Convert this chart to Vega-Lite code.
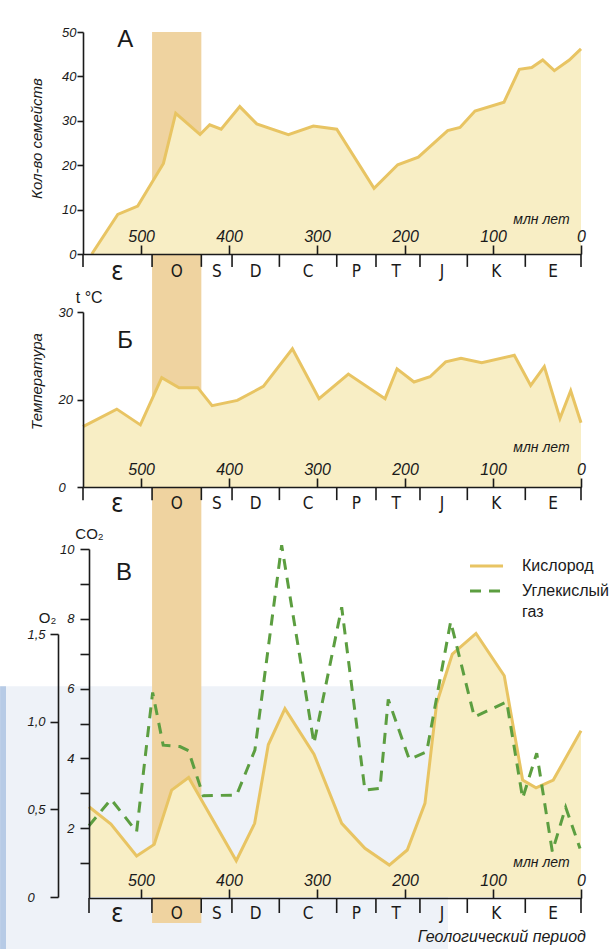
{
  "$schema": "https://vega.github.io/schema/vega-lite/v6.json",
  "width": 614,
  "height": 949,
  "autosize": {"type": "none"},
  "padding": 0,
  "config": {
    "view": {"stroke": null},
    "font": "Liberation Sans",
    "axis": {
      "grid": false,
      "domainColor": "#1a1a1a",
      "tickColor": "#1a1a1a",
      "labelColor": "#1a1a1a",
      "titleColor": "#1a1a1a",
      "domainWidth": 1.6,
      "tickWidth": 1.6,
      "labelFont": "Liberation Sans",
      "titleFont": "Liberation Sans",
      "labelFontStyle": "italic",
      "titleFontWeight": "normal",
      "labelOverlap": false,
      "labelBound": false
    }
  },
  "datasets": {
    "fam": [
      {"age": 556, "v": 0}, {"age": 526.5, "v": 8.9}, {"age": 503.8, "v": 10.8}, {"age": 474.6, "v": 20.4},
      {"age": 460.6, "v": 31.7}, {"age": 433, "v": 26.9}, {"age": 422, "v": 29.1}, {"age": 409, "v": 28.1},
      {"age": 387.8, "v": 33.2}, {"age": 368.5, "v": 29.3}, {"age": 332.6, "v": 26.9}, {"age": 304.2, "v": 28.8},
      {"age": 277.6, "v": 28.1}, {"age": 235.2, "v": 14.8}, {"age": 208.3, "v": 20.1}, {"age": 184.9, "v": 21.8},
      {"age": 151.5, "v": 27.8}, {"age": 137.5, "v": 28.5}, {"age": 120.5, "v": 32.2}, {"age": 87.5, "v": 34.2},
      {"age": 70.1, "v": 41.6}, {"age": 56, "v": 42.0}, {"age": 43.5, "v": 43.7}, {"age": 30.3, "v": 41.3},
      {"age": 13.3, "v": 43.7}, {"age": 0, "v": 46.2}
    ],
    "temp": [
      {"age": 566, "v": 16.9}, {"age": 527.6, "v": 18.9}, {"age": 500.8, "v": 17.1}, {"age": 476.5, "v": 22.5},
      {"age": 456.8, "v": 21.35}, {"age": 435.6, "v": 21.35}, {"age": 419.3, "v": 19.3}, {"age": 390.6, "v": 19.9},
      {"age": 361, "v": 21.5}, {"age": 328, "v": 25.8}, {"age": 297.7, "v": 20.1}, {"age": 264.4, "v": 22.9},
      {"age": 222.7, "v": 20.1}, {"age": 209.1, "v": 23.5}, {"age": 189.8, "v": 22.0}, {"age": 171.6, "v": 22.6},
      {"age": 153.8, "v": 24.3}, {"age": 136.4, "v": 24.7}, {"age": 112.8, "v": 24.2}, {"age": 75.8, "v": 25.05},
      {"age": 57.2, "v": 21.6}, {"age": 41.7, "v": 23.75}, {"age": 23.9, "v": 17.85}, {"age": 11.7, "v": 21.0},
      {"age": 0, "v": 17.35}
    ],
    "o2": [
      {"age": 559, "v": 0.515}, {"age": 534.1, "v": 0.416}, {"age": 504.9, "v": 0.234}, {"age": 484.9, "v": 0.30},
      {"age": 465.1, "v": 0.61}, {"age": 445.8, "v": 0.682}, {"age": 391.7, "v": 0.207}, {"age": 370.8, "v": 0.42},
      {"age": 355.3, "v": 0.868}, {"age": 336.4, "v": 1.074}, {"age": 303.4, "v": 0.815}, {"age": 271.9, "v": 0.42},
      {"age": 245.5, "v": 0.278}, {"age": 217.8, "v": 0.182}, {"age": 197.4, "v": 0.268}, {"age": 177.3, "v": 0.534},
      {"age": 164, "v": 1.104}, {"age": 146.2, "v": 1.385}, {"age": 119.3, "v": 1.503}, {"age": 87.2, "v": 1.262},
      {"age": 66.3, "v": 0.667}, {"age": 51.1, "v": 0.623}, {"age": 31.5, "v": 0.667}, {"age": 0, "v": 0.948}
    ],
    "co2": [
      {"age": 559, "v": 2.07}, {"age": 534, "v": 2.83}, {"age": 504.9, "v": 1.90}, {"age": 486.7, "v": 5.89},
      {"age": 474.7, "v": 4.38}, {"age": 455.7, "v": 4.34}, {"age": 446, "v": 4.22}, {"age": 429.2, "v": 2.93},
      {"age": 391.3, "v": 2.95}, {"age": 370.5, "v": 4.24}, {"age": 340.1, "v": 10.11}, {"age": 303.4, "v": 4.43},
      {"age": 271.9, "v": 8.33}, {"age": 245.5, "v": 3.09}, {"age": 228.4, "v": 3.14}, {"age": 219, "v": 5.69},
      {"age": 195.1, "v": 3.97}, {"age": 175.3, "v": 4.19}, {"age": 148.1, "v": 7.92}, {"age": 121.2, "v": 5.19},
      {"age": 84.4, "v": 5.62}, {"age": 66.3, "v": 2.86}, {"age": 50.3, "v": 4.15}, {"age": 32.6, "v": 1.33},
      {"age": 17.4, "v": 2.6}, {"age": 1.1, "v": 1.42}
    ],
    "periods": [
      {"name": "ε", "start": 566, "end": 487.5, "mid": 527},
      {"name": "O", "start": 487.5, "end": 431.5, "mid": 459.5},
      {"name": "S", "start": 431.5, "end": 396.6, "mid": 414},
      {"name": "D", "start": 396.6, "end": 342.8, "mid": 369.7},
      {"name": "C", "start": 342.8, "end": 277.6, "mid": 310.2},
      {"name": "P", "start": 277.6, "end": 233, "mid": 255.3},
      {"name": "T", "start": 233, "end": 183, "mid": 210},
      {"name": "J", "start": 183, "end": 129.2, "mid": 158},
      {"name": "K", "start": 129.2, "end": 63.3, "mid": 96.2},
      {"name": "E", "start": 63.3, "end": 0, "mid": 31.6}
    ],
    "one": [{}]
  },
  "layer": [
    {
      "data": {"name": "one"},
      "mark": {"type": "rect", "color": "#eef2f8"},
      "encoding": {
        "x": {"datum": 660, "type": "quantitative", "scale": {"domain": [0, 559], "range": [581, 89], "nice": false, "zero": false}, "axis": null},
        "x2": {"datum": 151.1},
        "y": {"datum": 6.07, "type": "quantitative", "scale": {"domain": [0, 10], "range": [898, 549], "nice": false, "zero": false}, "axis": null},
        "y2": {"datum": -1.5}
      }
    },
    {
      "data": {"name": "one"},
      "mark": {"type": "rect", "color": "#b7cbe6"},
      "encoding": {
        "x": {"datum": 660, "type": "quantitative", "scale": {"domain": [0, 559], "range": [581, 89], "nice": false, "zero": false}, "axis": null},
        "x2": {"datum": 653.3},
        "y": {"datum": 6.07, "type": "quantitative", "scale": {"domain": [0, 10], "range": [898, 549], "nice": false, "zero": false}, "axis": null},
        "y2": {"datum": -1.5}
      }
    },
    {
      "data": {"name": "periods"},
      "transform": [{"filter": "datum.name === 'O'"}],
      "mark": {"type": "rect", "color": "#efd3a0"},
      "encoding": {
        "x": {"field": "start", "type": "quantitative", "scale": {"domain": [0, 566], "range": [581, 83], "nice": false, "zero": false}, "axis": null},
        "x2": {"field": "end"},
        "y": {"datum": 1, "type": "quantitative", "scale": {"domain": [0, 1], "range": [923, 32], "nice": false, "zero": false}, "axis": null},
        "y2": {"datum": 0}
      }
    },
    {
      "data": {"name": "fam"},
      "encoding": {
        "x": {"field": "age", "type": "quantitative", "scale": {"domain": [0, 566], "range": [581, 83], "nice": false, "zero": false},
          "axis": {"orient": "top", "offset": -254, "zindex": 1, "values": [500, 400, 300, 200, 100, 0], "format": "d", "tickSize": 9, "labelPadding": 1, "labelFontSize": 16, "labelFlush": false,
            "title": "млн лет", "titleX": 541, "titleY": -35, "titleAlign": "center", "titleBaseline": "middle", "titleFontSize": 14, "titleFontStyle": "italic", "titleAngle": 0}},
        "y": {"field": "v", "type": "quantitative", "scale": {"domain": [0, 50], "range": [254, 32], "nice": false, "zero": false},
          "axis": {"orient": "left", "offset": -83, "zindex": 1, "values": [0, 10, 20, 30, 40, 50], "tickSize": 6, "labelPadding": 1, "labelFontSize": 13,
            "title": "Кол-во семейств", "titleFontSize": 15, "titleFontStyle": "italic", "titleAngle": 270, "titleX": -47, "titleY": 138, "titleAlign": "center", "titleBaseline": "middle"}}
      },
      "layer": [
        {"mark": {"type": "area", "color": "#f8eec5"}, "encoding": {"y2": {"datum": 0}}},
        {"mark": {"type": "line", "color": "#e8c463", "strokeWidth": 3}}
      ]
    },
    {
      "data": {"name": "periods"},
      "mark": {"type": "rule", "color": "#1a1a1a", "strokeWidth": 1.6},
      "encoding": {
        "x": {"field": "end", "type": "quantitative", "scale": {"domain": [0, 566], "range": [581, 83], "nice": false, "zero": false}, "axis": null},
        "y": {"datum": 0, "type": "quantitative", "scale": {"domain": [0, 50], "range": [254, 32], "nice": false, "zero": false}, "axis": null},
        "y2": {"datum": -2.9}
      }
    },
    {
      "data": {"name": "one"},
      "mark": {"type": "rule", "color": "#1a1a1a", "strokeWidth": 1.6},
      "encoding": {
        "x": {"datum": 566, "type": "quantitative", "scale": {"domain": [0, 566], "range": [581, 83], "nice": false, "zero": false}, "axis": null},
        "y": {"datum": 0, "type": "quantitative", "scale": {"domain": [0, 50], "range": [254, 32], "nice": false, "zero": false}, "axis": null},
        "y2": {"datum": -2.9}
      }
    },
    {
      "data": {"name": "periods"},
      "mark": {"type": "text", "font": "Liberation Sans Narrow, DejaVu Sans Condensed, Liberation Sans", "baseline": "middle", "dy": 18, "color": "#1a1a1a"},
      "encoding": {
        "x": {"field": "mid", "type": "quantitative", "scale": {"domain": [0, 566], "range": [581, 83], "nice": false, "zero": false}, "axis": null},
        "y": {"datum": 0, "type": "quantitative", "scale": {"domain": [0, 50], "range": [254, 32], "nice": false, "zero": false}, "axis": null},
        "text": {"field": "name"},
        "size": {"condition": {"test": "datum.name === 'ε'", "value": 26}, "value": 17}
      }
    },
    {
      "data": {"name": "one"},
      "mark": {"type": "text", "text": "А", "fontSize": 24, "color": "#1a1a1a", "baseline": "middle"},
      "encoding": {
        "x": {"datum": 518, "type": "quantitative", "scale": {"domain": [0, 566], "range": [581, 83], "nice": false, "zero": false}, "axis": null},
        "y": {"datum": 48.2, "type": "quantitative", "scale": {"domain": [0, 50], "range": [254, 32], "nice": false, "zero": false}, "axis": null}
      }
    },
    {
      "data": {"name": "temp"},
      "encoding": {
        "x": {"field": "age", "type": "quantitative", "scale": {"domain": [0, 566], "range": [581, 83], "nice": false, "zero": false},
          "axis": {"orient": "top", "offset": -487, "zindex": 1, "values": [500, 400, 300, 200, 100, 0], "format": "d", "tickSize": 9, "labelPadding": 1, "labelFontSize": 16, "labelFlush": false,
            "title": "млн лет", "titleX": 541, "titleY": -40, "titleAlign": "center", "titleBaseline": "middle", "titleFontSize": 14, "titleFontStyle": "italic", "titleAngle": 0}},
        "y": {"field": "v", "type": "quantitative", "scale": {"domain": [10, 30], "range": [487, 312], "nice": false, "zero": false},
          "axis": {"orient": "left", "offset": -83, "zindex": 1, "values": [10, 20, 30], "labelExpr": "datum.value == 10 ? '0' : datum.label", "tickSize": 6, "labelPadding": 19, "labelAlign": "left", "labelFontSize": 13,
            "title": "Температура", "titleFontSize": 15, "titleFontStyle": "italic", "titleAngle": 270, "titleX": -47, "titleY": 381, "titleAlign": "center", "titleBaseline": "middle"}}
      },
      "layer": [
        {"mark": {"type": "area", "color": "#f8eec5"}, "encoding": {"y2": {"datum": 10}}},
        {"mark": {"type": "line", "color": "#e8c463", "strokeWidth": 3}}
      ]
    },
    {
      "data": {"name": "periods"},
      "mark": {"type": "rule", "color": "#1a1a1a", "strokeWidth": 1.6},
      "encoding": {
        "x": {"field": "end", "type": "quantitative", "scale": {"domain": [0, 566], "range": [581, 83], "nice": false, "zero": false}, "axis": null},
        "y": {"datum": 10, "type": "quantitative", "scale": {"domain": [10, 30], "range": [487, 312], "nice": false, "zero": false}, "axis": null},
        "y2": {"datum": 8.5}
      }
    },
    {
      "data": {"name": "one"},
      "mark": {"type": "rule", "color": "#1a1a1a", "strokeWidth": 1.6},
      "encoding": {
        "x": {"datum": 566, "type": "quantitative", "scale": {"domain": [0, 566], "range": [581, 83], "nice": false, "zero": false}, "axis": null},
        "y": {"datum": 10, "type": "quantitative", "scale": {"domain": [10, 30], "range": [487, 312], "nice": false, "zero": false}, "axis": null},
        "y2": {"datum": 8.5}
      }
    },
    {
      "data": {"name": "periods"},
      "mark": {"type": "text", "font": "Liberation Sans Narrow, DejaVu Sans Condensed, Liberation Sans", "baseline": "middle", "dy": 17, "color": "#1a1a1a"},
      "encoding": {
        "x": {"field": "mid", "type": "quantitative", "scale": {"domain": [0, 566], "range": [581, 83], "nice": false, "zero": false}, "axis": null},
        "y": {"datum": 10, "type": "quantitative", "scale": {"domain": [10, 30], "range": [487, 312], "nice": false, "zero": false}, "axis": null},
        "text": {"field": "name"},
        "size": {"condition": {"test": "datum.name === 'ε'", "value": 26}, "value": 17}
      }
    },
    {
      "data": {"name": "one"},
      "mark": {"type": "text", "text": "Б", "fontSize": 24, "color": "#1a1a1a", "baseline": "middle"},
      "encoding": {
        "x": {"datum": 518, "type": "quantitative", "scale": {"domain": [0, 566], "range": [581, 83], "nice": false, "zero": false}, "axis": null},
        "y": {"datum": 26.7, "type": "quantitative", "scale": {"domain": [10, 30], "range": [487, 312], "nice": false, "zero": false}, "axis": null}
      }
    },
    {
      "data": {"name": "one"},
      "mark": {"type": "text", "text": "t °C", "fontSize": 16, "color": "#1a1a1a", "baseline": "middle"},
      "encoding": {
        "x": {"datum": 559, "type": "quantitative", "scale": {"domain": [0, 566], "range": [581, 83], "nice": false, "zero": false}, "axis": null},
        "y": {"datum": 31.6, "type": "quantitative", "scale": {"domain": [10, 30], "range": [487, 312], "nice": false, "zero": false}, "axis": null}
      }
    },
    {
      "data": {"name": "o2"},
      "encoding": {
        "x": {"field": "age", "type": "quantitative", "scale": {"domain": [0, 559], "range": [581, 89], "nice": false, "zero": false}, "axis": null},
        "y": {"field": "v", "type": "quantitative", "scale": {"domain": [0, 1.5], "range": [897, 634], "nice": false, "zero": false},
          "axis": {"orient": "left", "offset": -58, "zindex": 1, "values": [0, 0.5, 1, 1.5], "labelExpr": "datum.value == 0 ? '0' : replace(format(datum.value, '.1f'), '.', ',')", "tickSize": 8, "labelPadding": 23, "labelAlign": "left", "labelFontSize": 13,
            "title": "O₂", "titleAngle": 0, "titleX": -11, "titleY": 617, "titleAlign": "center", "titleBaseline": "middle", "titleFontSize": 15, "titleFontStyle": "normal"}}
      },
      "layer": [
        {"mark": {"type": "area", "color": "#f8eec5"}, "encoding": {"y2": {"datum": 0}}},
        {"mark": {"type": "line", "color": "#e8c463", "strokeWidth": 3}}
      ]
    },
    {
      "data": {"name": "co2"},
      "mark": {"type": "line", "color": "#5c9e40", "strokeWidth": 3, "strokeDash": [11, 8]},
      "encoding": {
        "x": {"field": "age", "type": "quantitative", "scale": {"domain": [0, 559], "range": [581, 89], "nice": false, "zero": false},
          "axis": {"orient": "top", "offset": -898, "zindex": 1, "values": [500, 400, 300, 200, 100, 0], "format": "d", "tickSize": 9, "labelPadding": 1, "labelFontSize": 16, "labelFlush": false,
            "title": "млн лет", "titleX": 541, "titleY": -36, "titleAlign": "center", "titleBaseline": "middle", "titleFontSize": 14, "titleFontStyle": "italic", "titleAngle": 0}},
        "y": {"field": "v", "type": "quantitative", "scale": {"domain": [0, 10], "range": [898, 549], "nice": false, "zero": false},
          "axis": {"orient": "left", "offset": -89, "zindex": 1, "values": [1, 2, 3, 4, 5, 6, 7, 8, 9, 10], "labelExpr": "datum.value % 2 == 0 ? datum.label : ''", "tickSize": 9, "labelPadding": 6, "labelFontSize": 13,
            "title": "CO₂", "titleAngle": 0, "titleX": 0, "titleY": 533, "titleAlign": "center", "titleBaseline": "middle", "titleFontSize": 15, "titleFontStyle": "normal"}}
      }
    },
    {
      "data": {"name": "periods"},
      "mark": {"type": "rule", "color": "#1a1a1a", "strokeWidth": 1.6},
      "encoding": {
        "x": {"field": "end", "type": "quantitative", "scale": {"domain": [0, 559], "range": [581, 89], "nice": false, "zero": false}, "axis": null},
        "y": {"datum": 0, "type": "quantitative", "scale": {"domain": [0, 10], "range": [898, 549], "nice": false, "zero": false}, "axis": null},
        "y2": {"datum": -0.43}
      }
    },
    {
      "data": {"name": "one"},
      "mark": {"type": "rule", "color": "#1a1a1a", "strokeWidth": 1.6},
      "encoding": {
        "x": {"datum": 559, "type": "quantitative", "scale": {"domain": [0, 559], "range": [581, 89], "nice": false, "zero": false}, "axis": null},
        "y": {"datum": 0, "type": "quantitative", "scale": {"domain": [0, 10], "range": [898, 549], "nice": false, "zero": false}, "axis": null},
        "y2": {"datum": -0.43}
      }
    },
    {
      "data": {"name": "periods"},
      "mark": {"type": "text", "font": "Liberation Sans Narrow, DejaVu Sans Condensed, Liberation Sans", "baseline": "middle", "dy": 16, "color": "#1a1a1a"},
      "encoding": {
        "x": {"field": "mid", "type": "quantitative", "scale": {"domain": [0, 566], "range": [581, 83], "nice": false, "zero": false}, "axis": null},
        "y": {"datum": 0, "type": "quantitative", "scale": {"domain": [0, 10], "range": [898, 549], "nice": false, "zero": false}, "axis": null},
        "text": {"field": "name"},
        "size": {"condition": {"test": "datum.name === 'ε'", "value": 26}, "value": 17}
      }
    },
    {
      "data": {"name": "one"},
      "mark": {"type": "text", "text": "В", "fontSize": 24, "color": "#1a1a1a", "baseline": "middle"},
      "encoding": {
        "x": {"datum": 519.3, "type": "quantitative", "scale": {"domain": [0, 559], "range": [581, 89], "nice": false, "zero": false}, "axis": null},
        "y": {"datum": 9.3, "type": "quantitative", "scale": {"domain": [0, 10], "range": [898, 549], "nice": false, "zero": false}, "axis": null}
      }
    },
    {
      "data": {"name": "one"},
      "mark": {"type": "rule", "color": "#e8c463", "strokeWidth": 3},
      "encoding": {
        "x": {"datum": 126.1, "type": "quantitative", "scale": {"domain": [0, 559], "range": [581, 89], "nice": false, "zero": false}, "axis": null},
        "x2": {"datum": 88.6},
        "y": {"datum": 9.51, "type": "quantitative", "scale": {"domain": [0, 10], "range": [898, 549], "nice": false, "zero": false}, "axis": null}
      }
    },
    {
      "data": {"name": "one"},
      "mark": {"type": "rule", "color": "#5c9e40", "strokeWidth": 3, "strokeDash": [11, 8]},
      "encoding": {
        "x": {"datum": 126.1, "type": "quantitative", "scale": {"domain": [0, 559], "range": [581, 89], "nice": false, "zero": false}, "axis": null},
        "x2": {"datum": 88.6},
        "y": {"datum": 8.8, "type": "quantitative", "scale": {"domain": [0, 10], "range": [898, 549], "nice": false, "zero": false}, "axis": null}
      }
    },
    {
      "data": {"name": "one"},
      "mark": {"type": "text", "text": "Кислород", "fontSize": 16, "align": "left", "baseline": "middle", "color": "#1a1a1a"},
      "encoding": {
        "x": {"datum": 67, "type": "quantitative", "scale": {"domain": [0, 559], "range": [581, 89], "nice": false, "zero": false}, "axis": null},
        "y": {"datum": 9.51, "type": "quantitative", "scale": {"domain": [0, 10], "range": [898, 549], "nice": false, "zero": false}, "axis": null}
      }
    },
    {
      "data": {"name": "one"},
      "mark": {"type": "text", "text": "Углекислый", "fontSize": 16, "align": "left", "baseline": "middle", "color": "#1a1a1a"},
      "encoding": {
        "x": {"datum": 67, "type": "quantitative", "scale": {"domain": [0, 559], "range": [581, 89], "nice": false, "zero": false}, "axis": null},
        "y": {"datum": 8.8, "type": "quantitative", "scale": {"domain": [0, 10], "range": [898, 549], "nice": false, "zero": false}, "axis": null}
      }
    },
    {
      "data": {"name": "one"},
      "mark": {"type": "text", "text": "газ", "fontSize": 16, "align": "left", "baseline": "middle", "color": "#1a1a1a"},
      "encoding": {
        "x": {"datum": 67, "type": "quantitative", "scale": {"domain": [0, 559], "range": [581, 89], "nice": false, "zero": false}, "axis": null},
        "y": {"datum": 8.2, "type": "quantitative", "scale": {"domain": [0, 10], "range": [898, 549], "nice": false, "zero": false}, "axis": null}
      }
    },
    {
      "data": {"name": "one"},
      "mark": {"type": "text", "text": "Геологический период", "fontSize": 16, "fontStyle": "italic", "align": "center", "baseline": "middle", "color": "#1a1a1a"},
      "encoding": {
        "x": {"datum": 90, "type": "quantitative", "scale": {"domain": [0, 559], "range": [581, 89], "nice": false, "zero": false}, "axis": null},
        "y": {"datum": -1.12, "type": "quantitative", "scale": {"domain": [0, 10], "range": [898, 549], "nice": false, "zero": false}, "axis": null}
      }
    }
  ],
  "resolve": {"scale": {"x": "independent", "y": "independent"}, "axis": {"x": "independent", "y": "independent"}}
}
